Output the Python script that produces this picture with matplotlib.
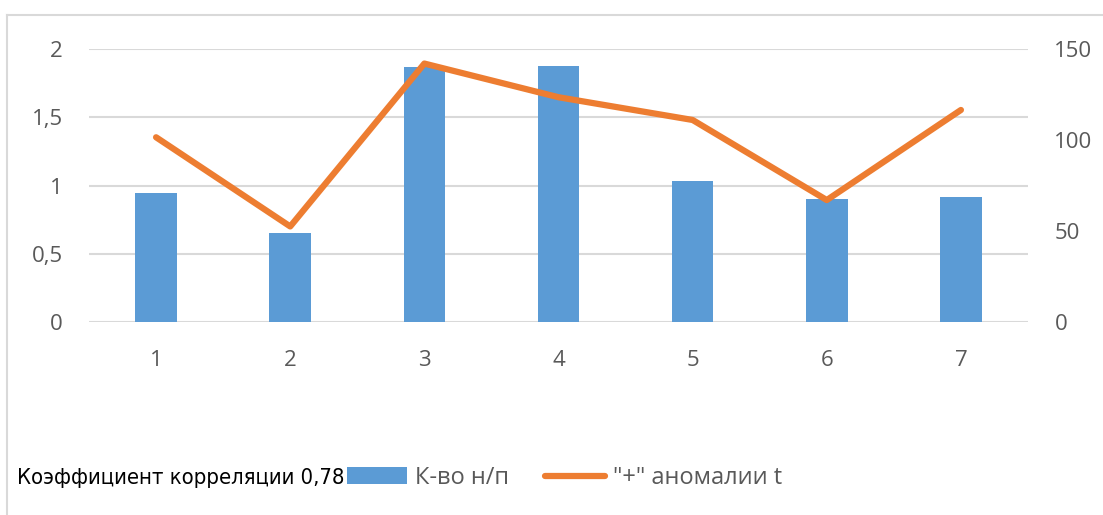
import matplotlib.pyplot as plt
from matplotlib.lines import Line2D
from matplotlib.patches import Patch

# данные с графика
categories = ['1', '2', '3', '4', '5', '6', '7']
kol_np = [0.945, 0.65, 1.87, 1.875, 1.03, 0.90, 0.915]
anomalii_t = [101.5, 52.5, 142, 123.5, 111, 67, 116.5]

left_ticks = [0, 0.5, 1, 1.5, 2]
left_labels = ['0', '0,5', '1', '1,5', '2']
right_ticks = [0, 50, 100, 150]

BLUE = '#5B9BD5'
ORANGE = '#ED7D31'
GRAY = '#595959'
GRID = '#D9D9D9'

plt.rcParams['font.family'] = ['Open Sans', 'DejaVu Sans']

fig = plt.figure(figsize=(11.03, 5.15), dpi=100)
W, H = 1103, 515
ax = fig.add_axes([89 / W, 1 - 322 / H, (1028 - 89) / W, (322 - 49) / H])
ax2 = ax.twinx()

x = list(range(len(categories)))
ax.bar(x, kol_np, width=0.31, color=BLUE, zorder=2)
ax.set_xlim(-0.5, len(categories) - 0.5)
ax.set_ylim(0, 2)
ax.set_yticks(left_ticks)
ax.set_yticklabels(left_labels)
ax.set_xticks(x)
ax.set_xticklabels(categories)
ax.yaxis.grid(True, color=GRID, lw=1.5, zorder=0)
ax.set_axisbelow(True)

ax2.plot(x, anomalii_t, color=ORANGE, lw=4.5, solid_capstyle='round',
         solid_joinstyle='round', zorder=3)
ax2.set_ylim(0, 150)
ax2.set_yticks(right_ticks)

for a in (ax, ax2):
    for s in a.spines.values():
        s.set_visible(False)
    a.tick_params(length=0, labelsize=16, labelcolor=GRAY)
ax.tick_params(axis='y', pad=19)
ax.tick_params(axis='x', pad=20)
ax2.tick_params(axis='y', pad=19)

# рамка области диаграммы
fig.add_artist(Line2D([7 / W, 1], [1 - 15 / H, 1 - 15 / H], color=GRID, lw=1.5))
fig.add_artist(Line2D([7 / W, 7 / W], [0, 1 - 15 / H], color=GRID, lw=1.5))

fig.text(17 / W, 1 - 478 / H, 'Коэффициент корреляции 0,78',
         family='DejaVu Sans', fontstretch='condensed', fontsize=15.8,
         color='black', va='center', ha='left')

handles = [Patch(facecolor=BLUE), Line2D([], [], color=ORANGE, lw=4.5, solid_capstyle='round')]
fig.legend(handles, ['К-во н/п', '"+" аномалии t'], ncol=2, frameon=False,
           loc='center left', bbox_to_anchor=(347 / W, 1 - 478 / H),
           fontsize=17, labelcolor=GRAY, handlelength=2.55, handleheight=0.7,
           handletextpad=0.34, columnspacing=1.5, borderpad=0, borderaxespad=0)

fig.savefig('out.png', dpi=100)
